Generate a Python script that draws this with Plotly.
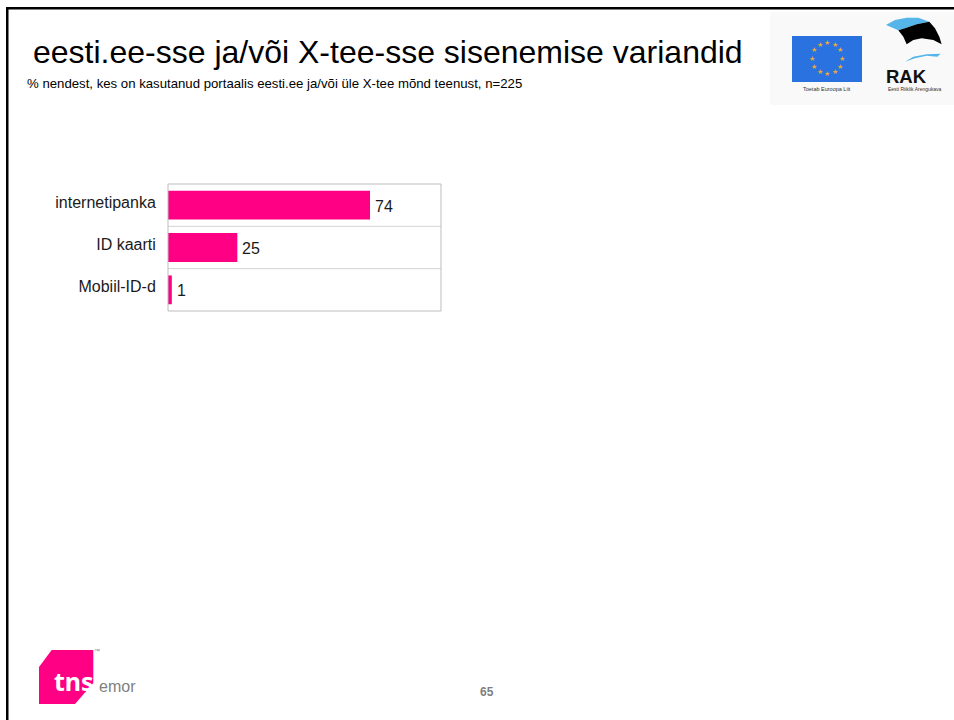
import plotly.graph_objects as go

categories = ["internetipanka", "ID kaarti", "Mobiil-ID-d"]
values = [74, 25.4, 1.4]
title_text = "eesti.ee-sse ja/või X-tee-sse sisenemise variandid"
subtitle_text = "% nendest, kes on kasutanud portaalis eesti.ee ja/või üle X-tee mõnd teenust, n=225"
page_number = "65"

W, H = 954, 720
FONT = "Liberation Sans"
PINK = "#FF0084"
BLUE = "#55B4EA"


def px(x):
    return x / W


def py(y):
    return 1 - y / H


def rect(x0, y0, x1, y1, fill):
    return dict(type="rect", xref="paper", yref="paper", x0=px(x0), x1=px(x1), y0=py(y1), y1=py(y0),
                fillcolor=fill, line=dict(color=fill, width=0), layer="below")


def path(points, fill):
    d = "M " + " L ".join(f"{px(a):.5f},{py(b):.5f}" for a, b in points) + " Z"
    return dict(type="path", xref="paper", yref="paper", path=d, fillcolor=fill, line=dict(width=0), layer="below")


def rak(points):
    return [(880 + a / 3, 5 + b / 3) for a, b in points]


def text(x, y, s, size, color="#000000", anchor="left", bold=False, family=FONT):
    return dict(xref="paper", yref="paper", x=px(x), y=py(y), text=f"<b>{s}</b>" if bold else s, showarrow=False,
                xanchor=anchor, yanchor="middle", font=dict(size=size, color=color, family=family), align=anchor)


shapes = [
    rect(770, 12, 954, 105, "#F9F9F9"),
    rect(792, 36, 862, 82, "#2A72E0"),
    path(rak([(18, 60), (45, 45), (80, 38), (115, 38), (148, 50), (110, 58), (75, 70), (55, 76)]), BLUE),
    path(rak([(55, 76), (75, 70), (110, 58), (148, 50), (165, 70), (178, 95), (185, 118), (160, 105), (125, 100),
              (100, 105), (80, 118), (70, 95)]), "#000000"),
    path(rak([(75, 170), (100, 155), (140, 148), (182, 146), (172, 155), (140, 152), (105, 160)]), BLUE),
    path([(51.7, 650), (93.3, 650), (93.3, 683), (75, 704), (39, 704), (39, 667)], PINK),
    rect(6, 7, 954, 9.5, "#000000"),
    rect(6, 7, 8.5, 720, "#000000"),
    dict(type="rect", xref="x domain", yref="y domain", x0=0, x1=1, y0=0, y1=1,
         line=dict(color="#BDBDBD", width=1), layer="above"),
]
for sep in range(len(categories) - 1):
    shapes.append(dict(type="line", xref="x domain", yref="y", x0=0, x1=1, y0=sep + 0.5, y1=sep + 0.5,
                       line=dict(color="#D4D4D4", width=1), layer="below"))

annotations = [
    text(31, 52, title_text, 32),
    text(25, 83, subtitle_text, 13.2),
    text(827, 88.5, "Toetab Euroopa Liit", 5.5, "#333333", "center"),
    text(906, 76.5, "RAK", 18.5, "#111111", "center", True),
    text(915, 88.5, "Eesti Riiklik Arengukava", 5, "#333333", "center"),
    text(73.5, 681, "tns", 25, "#FFFFFF", "center", True, "Noto Sans"),
    text(97, 686, "emor", 16, "#808080", "left"),
    text(97, 651, "™", 6, "#808080", "center"),
    text(487, 692, page_number, 12, "#808080", "center", True),
]
star_pos = [(827, 43), (834.5, 45), (840, 50.5), (842, 58.5), (840, 66.5), (834.5, 72), (827, 74),
            (819.5, 72), (814, 66.5), (812, 58.5), (814, 50.5), (819.5, 45)]
for a, b in star_pos:
    annotations.append(text(a, b, "★", 7, "#E8A83A", "center", family="DejaVu Sans"))

for cat, val in zip(categories, values):
    annotations.append(dict(xref="x", yref="y", x=val, y=cat, text=f"{val:.0f}", showarrow=False, xanchor="left",
                            yanchor="middle", xshift=3, yshift=-1,
                            font=dict(family=FONT, size=16, color="#1A1A1A")))

fig = go.Figure(
    go.Bar(
        y=categories,
        x=values,
        orientation="h",
        width=0.68,
        marker=dict(color=PINK, line=dict(width=0)),
        hoverinfo="skip",
    )
)
fig.update_layout(
    width=W,
    height=H,
    margin=dict(l=0, r=0, t=0, b=0),
    paper_bgcolor="#FFFFFF",
    plot_bgcolor="#FFFFFF",
    showlegend=False,
    shapes=shapes,
    annotations=annotations,
    xaxis=dict(domain=[168 / W, 441 / W], range=[0, 100], showgrid=False, zeroline=False, showticklabels=False,
               ticks="", showline=False, fixedrange=True),
    yaxis=dict(domain=[1 - 311 / H, 1 - 184 / H], autorange="reversed", showgrid=False, zeroline=False,
               showline=False, ticks="outside", ticklen=8, tickcolor="rgba(0,0,0,0)",
               tickfont=dict(family=FONT, size=16, color="#1A1A1A"), ticklabelshift=3, fixedrange=True),
)
fig.write_html("out.html", config=dict(displayModeBar=False),
               post_script="document.body.style.margin='0';document.body.style.overflow='hidden';")
